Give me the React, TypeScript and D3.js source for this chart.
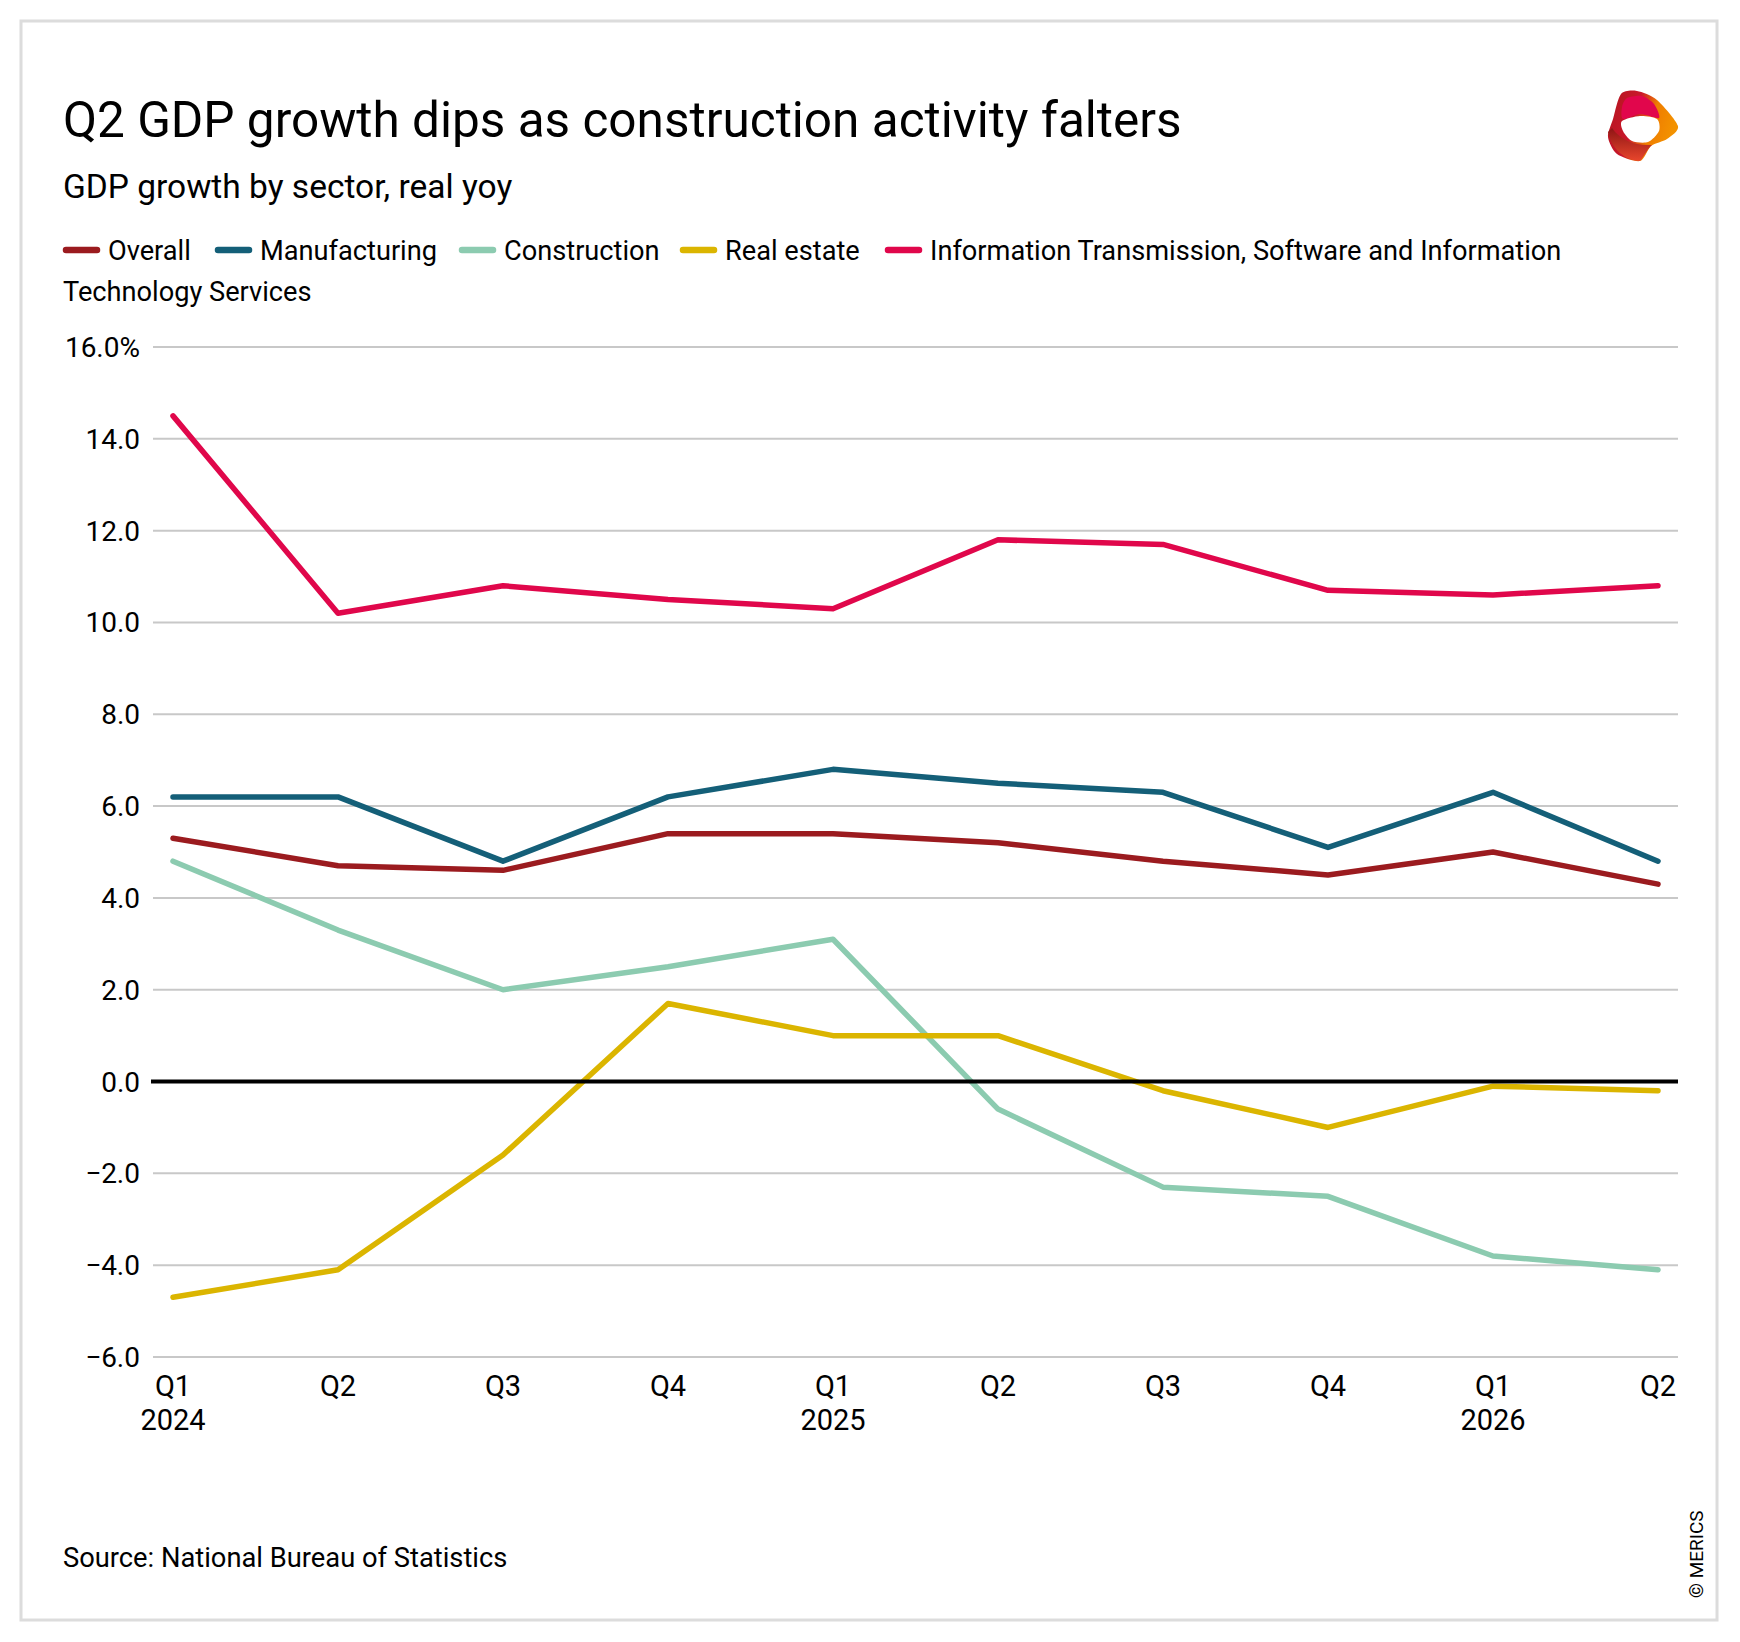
import * as d3 from "d3";

const quarters = ["Q1", "Q2", "Q3", "Q4", "Q1", "Q2", "Q3", "Q4", "Q1", "Q2"];
const years = ["2024", "", "", "", "2025", "", "", "", "2026", ""];

const overall = [5.3, 4.7, 4.6, 5.4, 5.4, 5.2, 4.8, 4.5, 5.0, 4.3];
const manufacturing = [6.2, 6.2, 4.8, 6.2, 6.8, 6.5, 6.3, 5.1, 6.3, 4.8];
const construction = [4.8, 3.3, 2.0, 2.5, 3.1, -0.6, -2.3, -2.5, -3.8, -4.1];
const realEstate = [-4.7, -4.1, -1.6, 1.7, 1.0, 1.0, -0.2, -1.0, -0.1, -0.2];
const infoTech = [14.5, 10.2, 10.8, 10.5, 10.3, 11.8, 11.7, 10.7, 10.6, 10.8];

const yTicks = [-6, -4, -2, 0, 2, 4, 6, 8, 10, 12, 14, 16];

const series = [
  { name: "Overall", color: "#9b1b1f", values: overall },
  { name: "Manufacturing", color: "#145f78", values: manufacturing },
  { name: "Construction", color: "#8ccbb0", values: construction },
  { name: "Real estate", color: "#dbb500", values: realEstate },
  { name: "Information Transmission, Software and Information", color: "#e0074b", values: infoTech },
];

const W = 1740;
const H = 1642;
const FONT = "Roboto, 'Noto Sans', sans-serif";

// legend item start positions
const legendX = [63, 215, 459, 680, 885];

function fmt(v: number) {
  const s = Math.abs(v).toFixed(1);
  const t = v < 0 ? "\u2212" + s : s;
  return v === 16 ? t + "%" : t;
}

function Logo() {
  const line = d3.line<[number, number]>().curve(d3.curveCardinalClosed.tension(0.2));
  const outer: [number, number][] = [
    [1621, 94], [1637, 91], [1657, 100], [1678, 126], [1667, 139],
    [1651, 146], [1640, 161], [1617, 154], [1608, 137], [1613, 119],
  ];
  const pink: [number, number][] = [
    [1627, 98], [1642, 96], [1654, 104], [1659, 118], [1640, 114], [1623, 119], [1622, 107],
  ];
  const hole: [number, number][] = [
    [1622, 121], [1640, 116], [1657, 119], [1659, 131], [1648, 142], [1632, 141], [1623, 131],
  ];
  return (
    <g>
      <defs>
        <linearGradient id="lg" x1="0" y1="0" x2="1" y2="0.3">
          <stop offset="0" stopColor="#b3141f" />
          <stop offset="0.45" stopColor="#c9182b" />
          <stop offset="0.7" stopColor="#ef7d00" />
          <stop offset="1" stopColor="#f39200" />
        </linearGradient>
        <linearGradient id="lb" x1="0" y1="0" x2="0" y2="1">
          <stop offset="0" stopColor="#8e1515" />
          <stop offset="1" stopColor="#e8462c" />
        </linearGradient>
      </defs>
      <path d={line(outer) ?? ""} fill="url(#lg)" />
      <path d="M1608,132 C1612,150 1625,160 1640,161 C1645,155 1648,148 1652,145 C1635,146 1620,140 1612,128 Z" fill="url(#lb)" />
      <path d={line(pink) ?? ""} fill="#e1064c" />
      <path d={line(hole) ?? ""} fill="#ffffff" />
    </g>
  );
}

export default function App() {
  const x = d3.scaleLinear().domain([0, quarters.length - 1]).range([173, 1658]);
  const y = d3.scaleLinear().domain([-6, 16]).range([1357, 347]);
  const line = d3
    .line<number>()
    .x((_, i) => x(i))
    .y((d) => y(d));

  return (
    <div style={{ position: "absolute", left: 0, top: 0 }}>
      <svg width={W} height={H} viewBox={`0 0 ${W} ${H}`} style={{ display: "block", fontFamily: FONT }}>
        <rect x={0} y={0} width={W} height={H} fill="#ffffff" />
        <rect x={21} y={21} width={1696} height={1599} fill="none" stroke="#dcdcdc" strokeWidth={3} />

        <text x={63} y={137} fontSize={49.5} fill="#000">
          Q2 GDP growth dips as construction activity falters
        </text>
        <text x={63} y={198} fontSize={33.5} fill="#000">
          GDP growth by sector, real yoy
        </text>

        <Logo />

        {series.map((s, i) => (
          <g key={s.name}>
            <line x1={legendX[i] + 3} x2={legendX[i] + 34} y1={250} y2={250} stroke={s.color} strokeWidth={6.5} strokeLinecap="round" />
            <text x={legendX[i] + 45} y={260} fontSize={27.2} fill="#000">
              {s.name}
            </text>
          </g>
        ))}
        <text x={63} y={301} fontSize={27.2} fill="#000">
          Technology Services
        </text>

        {yTicks.map((t) => (
          <g key={t}>
            {t !== 0 && (
              <line x1={153} x2={1678} y1={y(t)} y2={y(t)} stroke="#c8c8c8" strokeWidth={2} />
            )}
            <text x={140} y={y(t) + 10} fontSize={28} textAnchor="end" fill="#000">
              {fmt(t)}
            </text>
          </g>
        ))}

        {quarters.map((q, i) => (
          <g key={i}>
            <text x={x(i)} y={1396} fontSize={29} textAnchor="middle" fill="#000">
              {q}
            </text>
            {years[i] && (
              <text x={x(i)} y={1430} fontSize={29} textAnchor="middle" fill="#000">
                {years[i]}
              </text>
            )}
          </g>
        ))}

        {series.map((s) => (
          <path
            key={s.name}
            d={line(s.values) ?? ""}
            fill="none"
            stroke={s.color}
            strokeWidth={5.5}
            strokeLinejoin="round"
            strokeLinecap="round"
          />
        ))}

        <line x1={151} x2={1678} y1={y(0)} y2={y(0)} stroke="#000" strokeWidth={4} />

        <text x={63} y={1567} fontSize={27.3} fill="#000">
          Source: National Bureau of Statistics
        </text>
        <text transform="translate(1703,1598) rotate(-90)" fontSize={19} fill="#000">
          © MERICS
        </text>
      </svg>
    </div>
  );
}
